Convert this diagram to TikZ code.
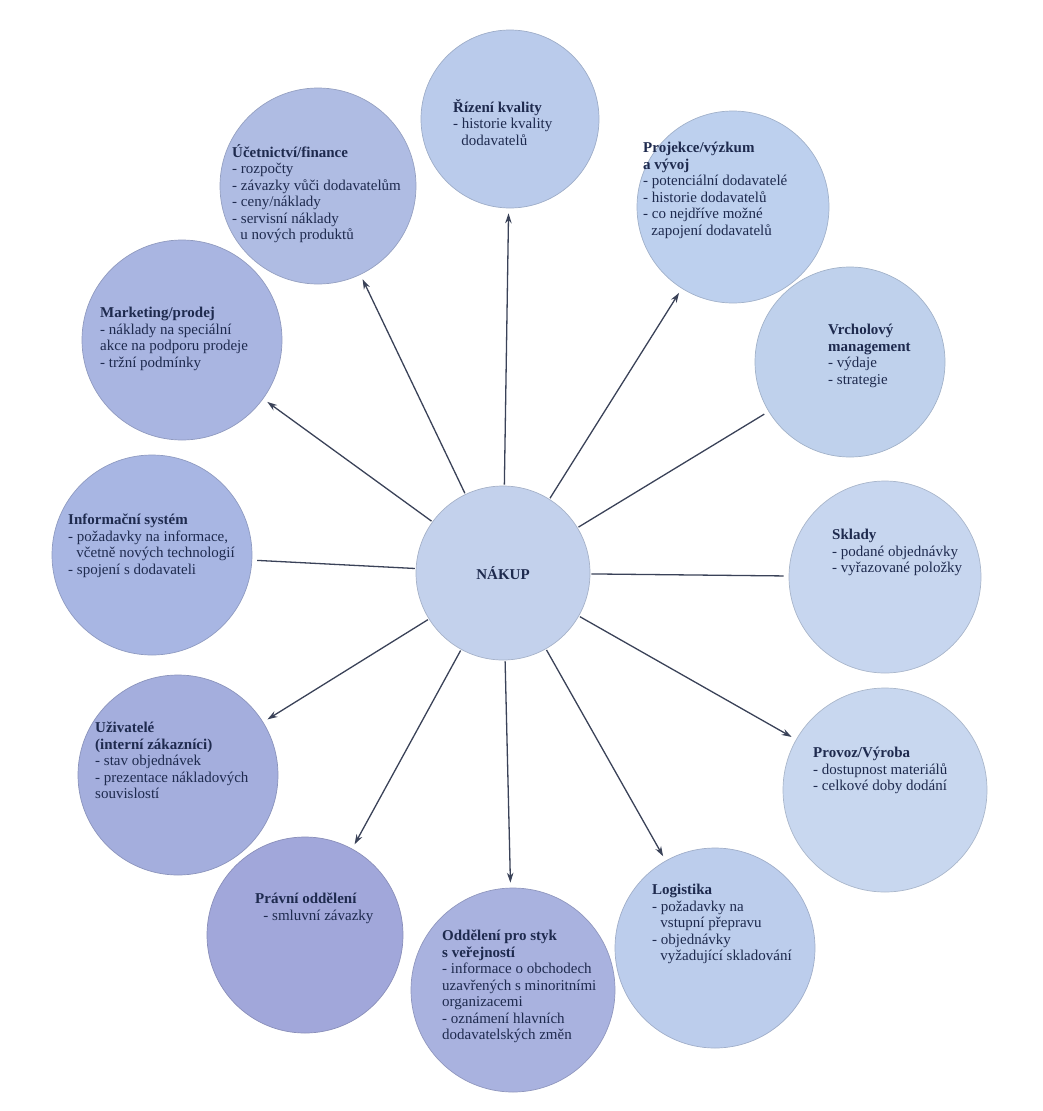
\documentclass[tikz,border=0pt]{standalone}
\usepackage{fontspec}
\setmainfont{Liberation Serif}
\usetikzlibrary{arrows.meta}
\definecolor{ink}{HTML}{1E2A4E}
\definecolor{wire}{HTML}{3A4258}
\definecolor{cNak}{HTML}{C3D1EC}
\definecolor{cKval}{HTML}{BACBEB}
\definecolor{cUcet}{HTML}{AFBCE3}
\definecolor{cProj}{HTML}{BDD0EE}
\definecolor{cVrch}{HTML}{BFD1EC}
\definecolor{cSkl}{HTML}{C7D6EF}
\definecolor{cProv}{HTML}{C8D7EF}
\definecolor{cLogi}{HTML}{BCCDEC}
\definecolor{cVerej}{HTML}{A9B2DF}
\definecolor{cPrav}{HTML}{A1A7DA}
\definecolor{cUziv}{HTML}{A4AEDD}
\definecolor{cInfo}{HTML}{A8B6E3}
\definecolor{cMark}{HTML}{A9B5E1}
\tikzset{
  bub/.style={circle, inner sep=0pt, draw=#1!85!black, line width=0.7pt, fill=#1},
  lbl/.style={font=\fontsize{15}{16.5}\selectfont, text=ink, align=left, anchor=north west, inner sep=0pt},
  link/.style={line width=1.3pt, draw=wire, shorten >=5pt, shorten <=1pt},
  arr/.style={link, -{Stealth[length=10pt,width=6.5pt]}},
}
\newcommand{\ind}{\hspace*{0.55em}}
\begin{document}
\begin{tikzpicture}[x=1pt,y=-1pt]
\useasboundingbox (0,0) rectangle (1042,1111);

% central department
\node[bub=cNak, minimum size=174pt] (nakup) at (503,573) {};
% surrounding departments
\node[bub=cKval,  minimum size=178pt] (kval)  at (510,119) {};
\node[bub=cUcet,  minimum size=196pt] (ucet)  at (318,186) {};
\node[bub=cProj,  minimum size=192pt] (proj)  at (733,207) {};
\node[bub=cVrch,  minimum size=190pt] (vrch)  at (850,362) {};
\node[bub=cSkl,   minimum size=192pt] (skl)   at (885,577) {};
\node[bub=cProv,  minimum size=204pt] (prov)  at (885,790) {};
\node[bub=cLogi,  minimum size=200pt] (logi)  at (715,948) {};
\node[bub=cVerej, minimum size=204pt] (verej) at (513,990) {};
\node[bub=cPrav,  minimum size=196pt] (prav)  at (305,935) {};
\node[bub=cUziv,  minimum size=200pt] (uziv)  at (178,775) {};
\node[bub=cInfo,  minimum size=200pt] (info)  at (152,555) {};
\node[bub=cMark,  minimum size=200pt] (mark)  at (182,340) {};

% labels
\node[font=\fontsize{15}{16.5}\selectfont\bfseries, text=ink] (tnakup) at (503,573) {NÁKUP};
\node[lbl] (tkval) at (453,99) {\textbf{Řízení kvality}\\- historie kvality\\\ind dodavatelů};
\node[lbl] (tucet) at (232,144) {\textbf{Účetnictví/finance}\\- rozpočty\\- závazky vůči dodavatelům\\- ceny/náklady\\- servisní náklady\\\ind u nových produktů};
\node[lbl] (tproj) at (643,142) {\textbf{Projekce/výzkum}\\\textbf{a vývoj}\\- potenciální dodavatelé\\- historie dodavatelů\\- co nejdříve možné\\\ind zapojení dodavatelů};
\node[lbl] (tvrch) at (828,324) {\textbf{Vrcholový}\\\textbf{management}\\- výdaje\\- strategie};
\node[lbl] (tskl) at (832,529) {\textbf{Sklady}\\- podané objednávky\\- vyřazované položky};
\node[lbl] (tprov) at (813,747) {\textbf{Provoz/Výroba}\\- dostupnost materiálů\\- celkové doby dodání};
\node[lbl] (tlogi) at (652,884) {\textbf{Logistika}\\- požadavky na\\\ind vstupní přepravu\\- objednávky\\\ind vyžadující skladování};
\node[lbl] (tverej) at (442,930) {\textbf{Oddělení pro styk}\\\textbf{s veřejností}\\- informace o obchodech\\uzavřených s minoritními\\organizacemi\\- oznámení hlavních\\dodavatelských změn};
\node[lbl] (tprav) at (255,893) {\textbf{Právní oddělení}\\\ind - smluvní závazky};
\node[lbl] (tuziv) at (95,722) {\textbf{Uživatelé}\\\textbf{(interní zákazníci)}\\- stav objednávek\\- prezentace nákladových\\souvislostí};
\node[lbl] (tinfo) at (68,514) {\textbf{Informační systém}\\- požadavky na informace,\\\ind včetně nových technologií\\- spojení s dodavateli};
\node[lbl] (tmark) at (100,307) {\textbf{Marketing/prodej}\\- náklady na speciální\\akce na podporu prodeje\\- tržní podmínky};

% connectors from the purchasing department
\draw[arr]  (nakup) -- (kval);
\draw[arr]  (nakup) -- (ucet);
\draw[arr]  (nakup) -- (proj);
\draw[link] (nakup) -- (vrch);
\draw[link] (nakup) -- (skl);
\draw[arr]  (nakup) -- (prov);
\draw[arr]  (nakup) -- (logi);
\draw[arr]  (nakup) -- (verej);
\draw[arr]  (nakup) -- (prav);
\draw[arr]  (nakup) -- (uziv);
\draw[link] (nakup) -- (info);
\draw[arr]  (nakup) -- (mark);
\end{tikzpicture}
\end{document}
